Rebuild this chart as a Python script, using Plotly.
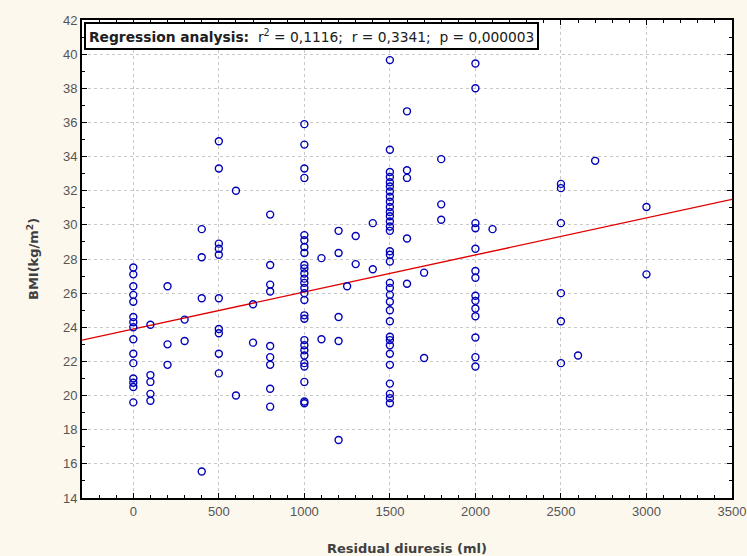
import plotly.graph_objects as go
import numpy as np

# Residual diuresis (ml) per column and BMI values
col_x = [0, 100, 200, 300, 400, 500, 600, 700, 800, 1000, 1100, 1200, 1250, 1300,
         1400, 1500, 1600, 1700, 1800, 2000, 2100, 2500, 2600, 2700, 3000]
col_bmi = [
    [27.5, 27.1, 26.4, 25.9, 25.5, 24.6, 24.3, 24.0, 23.3, 22.45, 21.9, 21.0, 20.75, 20.5, 19.6],
    [24.15, 21.2, 20.8, 20.1, 19.7],
    [26.4, 23.0, 21.8],
    [24.45, 23.2],
    [29.75, 28.1, 25.7, 15.55],
    [34.9, 33.3, 28.9, 28.6, 28.25, 25.7, 23.9, 23.65, 22.45, 21.3],
    [32.0, 20.0],
    [25.35, 23.1],
    [30.6, 27.65, 26.5, 26.1, 22.9, 22.25, 21.8, 20.4, 19.35],
    [35.9, 34.7, 33.3, 32.75, 29.4, 29.1, 28.7, 28.35, 27.65, 27.45, 27.15, 26.85, 26.6,
     26.3, 26.0, 25.6, 24.7, 24.5, 23.25, 22.95, 22.65, 22.35, 21.9, 21.7, 20.8, 19.65, 19.55],
    [28.05, 23.3],
    [29.65, 28.35, 24.6, 23.2, 17.4],
    [26.4],
    [29.35, 27.7],
    [30.1, 27.4],
    [39.65, 34.4, 33.1, 32.8, 32.5, 32.25, 31.95, 31.65, 31.35, 31.05, 30.75, 30.5, 30.2,
     29.9, 29.65, 28.45, 28.25, 27.85, 26.6, 26.3, 25.9, 25.5, 25.0, 24.35, 23.45, 23.25,
     22.95, 22.45, 21.8, 20.7, 20.1, 19.85, 19.55],
    [36.65, 33.2, 32.75, 29.2, 26.55],
    [27.2, 22.2],
    [33.85, 31.2, 30.3],
    [39.45, 38.0, 30.1, 29.8, 28.6, 27.3, 26.9, 25.85, 25.55, 25.1, 24.65, 23.4, 22.25, 21.7],
    [29.75],
    [32.4, 32.15, 30.1, 26.0, 24.35, 21.9],
    [22.35],
    [33.75],
    [31.05, 27.1],
]

x_vals = [cx for cx, ys in zip(col_x, col_bmi) for _ in ys]
y_vals = [y for ys in col_bmi for y in ys]

# Regression line
reg_intercept = 23.9
reg_slope = 0.00217
x_range = [-300, 3500]
y_range = [14, 42]
x_ticks = [0, 500, 1000, 1500, 2000, 2500, 3000, 3500]
y_ticks = list(range(14, 43, 2))

line_x = np.array(x_range, dtype=float)
line_y = reg_intercept + reg_slope * line_x

fig = go.Figure()
fig.add_trace(go.Scatter(
    x=line_x, y=line_y, mode="lines",
    line=dict(color="#e00000", width=1.4), hoverinfo="skip", showlegend=False))
fig.add_trace(go.Scatter(
    x=x_vals, y=y_vals, mode="markers",
    marker=dict(symbol="circle-open", size=7, color="#0000b8", line=dict(width=1.4, color="#0000b8")),
    showlegend=False))

axis_common = dict(
    showline=True, linecolor="black", linewidth=2, mirror="ticks",
    ticks="inside", ticklen=5, tickcolor="black", tickwidth=1,
    showgrid=True, gridcolor="#c8c8c8", griddash="dot", gridwidth=1,
    zeroline=False, automargin=False,
    tickfont=dict(family="Liberation Sans, Arial, sans-serif", size=13, color="#555555"),
)

fig.update_xaxes(
    range=x_range, tickvals=x_ticks,
    minor=dict(dtick=100, tick0=0, ticks="inside", ticklen=3, tickcolor="black", showgrid=False),
    **axis_common)
fig.update_yaxes(
    range=y_range, tickvals=y_ticks,
    minor=dict(dtick=1, tick0=0, ticks="inside", ticklen=3, tickcolor="black", showgrid=False),
    **axis_common)

title_font = dict(family="DejaVu Sans, sans-serif", size=13, color="#404040")
fig.add_annotation(
    xref="paper", yref="paper", x=0.5, y=0, xanchor="center", yanchor="middle",
    yshift=-50, showarrow=False, text="<b>Residual diuresis (ml)</b>", font=title_font)
fig.add_annotation(
    xref="paper", yref="paper", x=0, y=0.5, xanchor="center", yanchor="middle",
    xshift=-49, textangle=-90, showarrow=False, text="<b>BMI(kg/m<sup>2</sup>)</b>", font=title_font)

fig.add_annotation(
    xref="paper", yref="paper", x=0, y=1, xanchor="left", yanchor="top",
    xshift=2, yshift=-2, showarrow=False,
    text="<b>Regression analysis:</b>  r<sup>2</sup> = 0,1116;  r = 0,3341;  p = 0,000003",
    font=dict(family="DejaVu Sans, sans-serif", size=13.8, color="#202020"),
    bgcolor="white", bordercolor="black", borderwidth=2, borderpad=3)

fig.update_layout(
    width=747, height=556,
    margin=dict(l=82, r=15, t=20, b=58),
    paper_bgcolor="#fcf8ee", plot_bgcolor="white",
)

fig.write_html("out.html")
